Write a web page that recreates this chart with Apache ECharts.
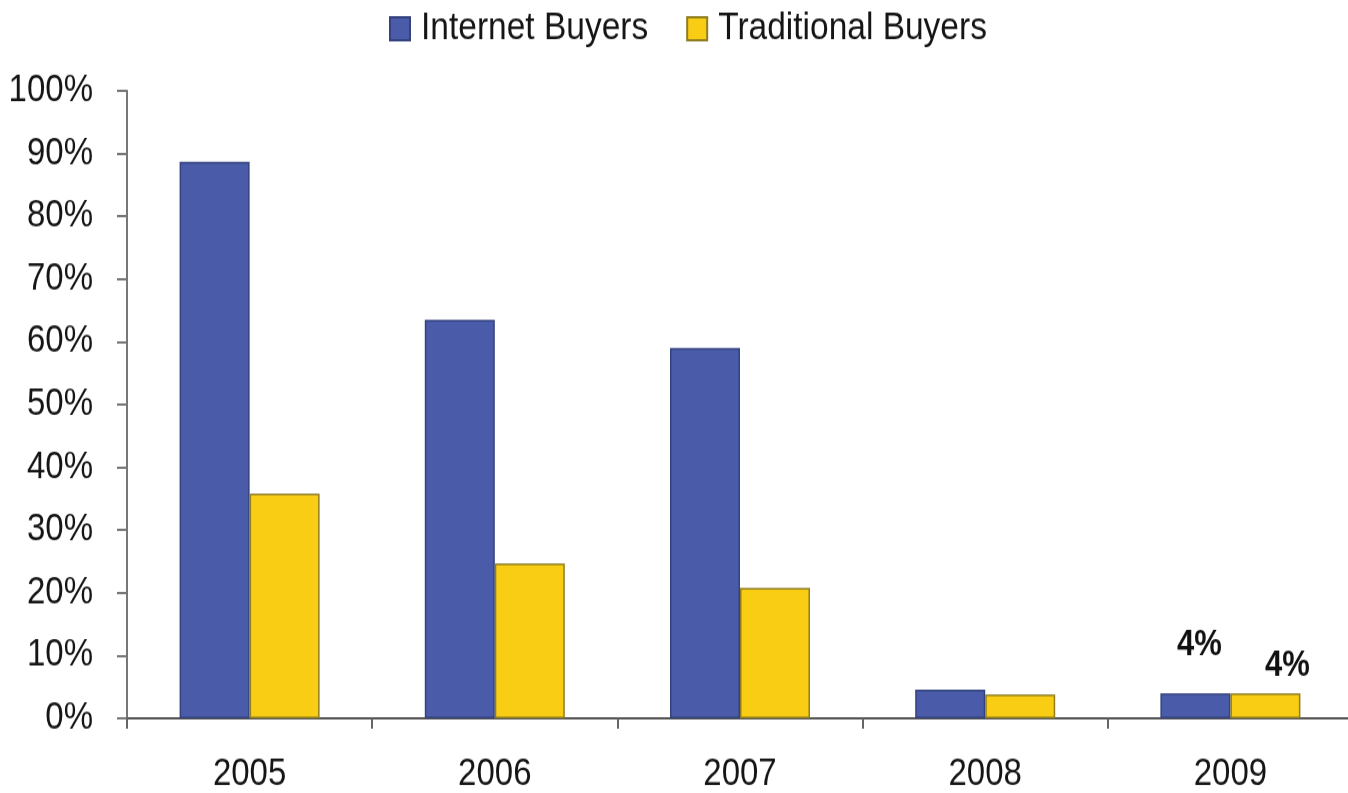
<!DOCTYPE html>
<html>
<head>
<meta charset="utf-8">
<script src="https://cdn.jsdelivr.net/npm/echarts@6/dist/echarts.min.js"></script>
<style>
  html, body { margin: 0; padding: 0; background: #fff; }
  #page { width: 1348px; height: 793px; position: relative; overflow: hidden; }
  /* The chart is laid out a little shorter and stretched vertically to fill the page,
     giving the tall, narrow lettering of the original slide. The plot runs slightly
     past the right edge, so the canvas is a bit wider than the page. */
  #chart { position: absolute; left: 0; top: 0; width: 1360px; height: 690px;
           transform: scaleY(1.1493); transform-origin: 0 0; }
</style>
</head>
<body>
<div id="page"><div id="chart"></div></div>
<script>
// Share of buyers by year (percent)
const years = ['2005', '2006', '2007', '2008', '2009'];
const internetBuyers = [88.7, 63.5, 59, 4.6, 4];
const traditionalBuyers = [35.8, 24.7, 20.8, 3.8, 4];
const yTicks = { min: 0, max: 100, step: 10 };

const FONT = '"Liberation Sans", Arial, sans-serif';
const BLUE = '#4a5ca9';
const YELLOW = '#f8cd14';

// Only the 2009 bars carry a value label
function withLabels(values, labelOpts) {
  return values.map((v, i) => i === values.length - 1
    ? { value: v, label: Object.assign({ show: true }, labelOpts) }
    : v);
}

const chart = echarts.init(document.getElementById('chart'), null, { renderer: 'canvas' });

chart.setOption({
  animation: false,
  backgroundColor: '#fff',
  textStyle: { fontFamily: FONT },
  legend: {
    top: 3,
    left: 384,
    itemWidth: 20,
    itemHeight: 20,
    itemGap: 38,
    icon: 'rect',
    textStyle: { fontFamily: FONT, fontSize: 33.5, color: '#151515', padding: [0, 0, 0, 6] },
    data: ['Internet Buyers', 'Traditional Buyers']
  },
  grid: { left: 127, right: 7, top: 79, bottom: 65, containLabel: false },
  xAxis: {
    type: 'category',
    data: years,
    axisLine: { show: true, lineStyle: { color: '#555', width: 2 } },
    axisTick: { show: true, alignWithLabel: false, length: 9, lineStyle: { color: '#666', width: 2 } },
    axisLabel: { fontFamily: FONT, fontSize: 33, color: '#151515', margin: 32 }
  },
  yAxis: {
    type: 'value',
    min: yTicks.min,
    max: yTicks.max,
    interval: yTicks.step,
    splitLine: { show: false },
    axisLine: { show: true, lineStyle: { color: '#777', width: 2 } },
    axisTick: { show: true, inside: false, length: 10, lineStyle: { color: '#777', width: 2 } },
    axisLabel: { fontFamily: FONT, fontSize: 33, color: '#151515', margin: 34, formatter: '{value}%' }
  },
  series: [
    {
      name: 'Internet Buyers',
      type: 'bar',
      barWidth: 70,
      barGap: '0%',
      itemStyle: { color: BLUE, borderColor: '#34427e', borderWidth: 1.5 },
      data: withLabels(internetBuyers, {
        position: 'top', distance: 26, offset: [4, 0], formatter: '{c}%',
        fontFamily: FONT, fontSize: 31, fontWeight: 'bold', color: '#111'
      })
    },
    {
      name: 'Traditional Buyers',
      type: 'bar',
      barWidth: 70,
      barGap: '0%',
      itemStyle: { color: YELLOW, borderColor: '#8f7d1e', borderWidth: 1.5 },
      data: withLabels(traditionalBuyers, {
        position: 'top', distance: 8, offset: [22, 0], formatter: '{c}%',
        fontFamily: FONT, fontSize: 31, fontWeight: 'bold', color: '#111'
      })
    }
  ]
});
</script>
</body>
</html>
